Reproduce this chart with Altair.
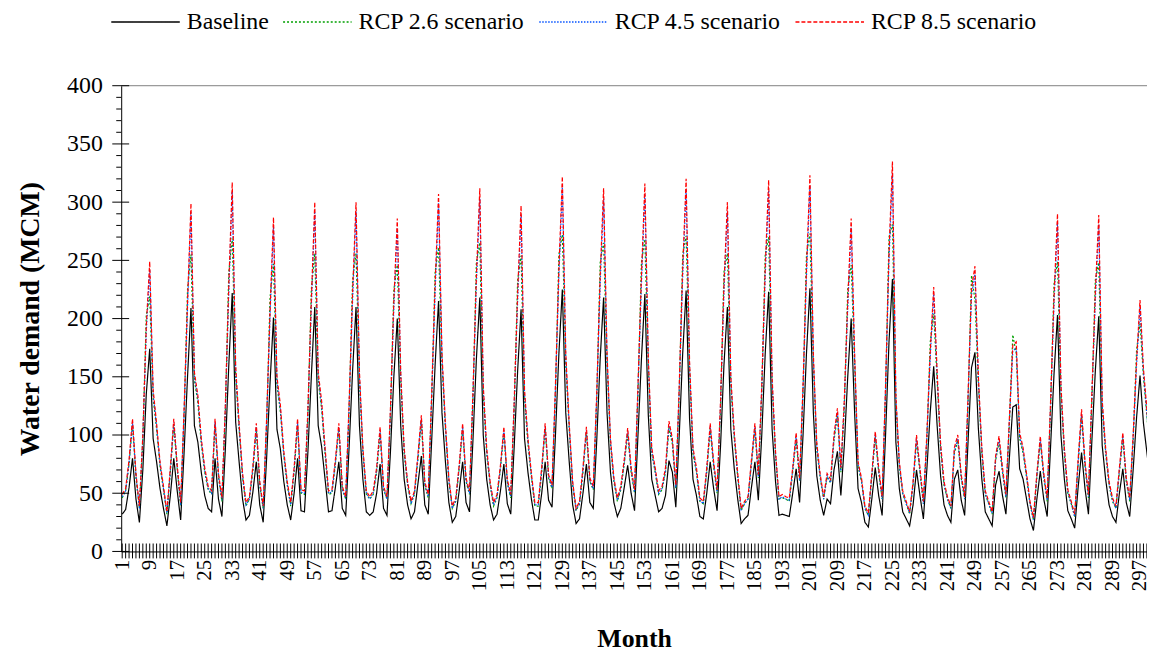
import altair as alt
import pandas as pd

# ---------------- data ----------------
series_names = ["Baseline", "RCP 2.6 scenario", "RCP 4.5 scenario", "RCP 8.5 scenario"]
series_colors = ["#000000", "#00a000", "#0050ff", "#ff0000"]
series_dashes = [[1, 0], [2, 2], [1.5, 1.5], [4, 2]]

months = list(range(1, 301))
x_label_months = list(range(1, 300, 8))
y_major_ticks = [0, 50, 100, 150, 200, 250, 300, 350, 400]
y_minor_ticks = [10, 20, 30, 40, 60, 70, 80, 90, 110, 120, 130, 140, 160, 170, 180, 190,
                 210, 220, 230, 240, 260, 270, 280, 290, 310, 320, 330, 340, 360, 370, 380, 390]

baseline = [
    32, 36, 55, 80, 45, 25, 70, 135, 174, 97, 77, 54,
    37, 22, 48, 80, 52, 27, 85, 150, 209, 108, 94, 68,
    48, 37, 34, 80, 45, 30, 88, 160, 222, 111, 77, 45,
    27, 31, 51, 77, 40, 25, 80, 145, 201, 105, 88, 60,
    40, 27, 50, 80, 35, 34, 85, 150, 210, 108, 90, 62,
    34, 35, 55, 77, 37, 31, 90, 155, 210, 108, 62, 34,
    31, 34, 50, 75, 37, 31, 85, 150, 200, 108, 62, 40,
    28, 34, 58, 82, 40, 32, 95, 160, 215, 119, 77, 42,
    25, 30, 52, 77, 42, 34, 95, 165, 218, 100, 62, 40,
    27, 32, 52, 75, 41, 32, 90, 155, 208, 97, 68, 45,
    27, 27, 50, 77, 44, 38, 100, 170, 225, 119, 77, 40,
    24, 28, 50, 75, 42, 37, 95, 165, 218, 119, 68, 42,
    30, 37, 55, 74, 50, 35, 100, 165, 221, 117, 62, 48,
    34, 37, 48, 78, 68, 38, 100, 170, 224, 114, 62, 48,
    30, 28, 50, 77, 54, 35, 90, 160, 210, 105, 71, 45,
    24, 28, 31, 55, 77, 44, 100, 170, 223, 105, 60, 31,
    32, 31, 30, 50, 71, 42, 100, 170, 226, 119, 65, 44,
    31, 45, 41, 70, 86, 48, 91, 150, 200, 119, 54, 42,
    25, 21, 45, 72, 48, 31, 100, 180, 234, 94, 54, 34,
    28, 22, 40, 70, 48, 28, 70, 120, 159, 108, 65, 40,
    31, 25, 62, 70, 44, 31, 95, 158, 171, 105, 62, 34,
    28, 22, 57, 69, 48, 32, 80, 124, 126, 71, 62, 45,
    28, 18, 45, 69, 45, 30, 91, 153, 203, 100, 62, 35,
    28, 20, 55, 85, 54, 32, 95, 155, 202, 91, 62, 40,
    30, 25, 50, 71, 42, 30, 70, 115, 151, 110, 85, 60,
]

rcp26 = [
    46, 52, 75, 109, 64, 37, 95, 203, 219, 132, 105, 73,
    53, 32, 68, 109, 71, 39, 116, 225, 255, 147, 128, 92,
    68, 53, 49, 109, 64, 43, 120, 240, 269, 151, 105, 64,
    39, 45, 69, 105, 57, 37, 109, 218, 247, 143, 120, 82,
    57, 39, 68, 109, 50, 49, 116, 225, 256, 147, 122, 84,
    49, 50, 75, 105, 53, 45, 122, 233, 256, 147, 84, 49,
    45, 49, 68, 102, 53, 45, 116, 225, 246, 147, 84, 57,
    41, 49, 79, 112, 57, 46, 129, 240, 261, 162, 105, 60,
    37, 43, 71, 105, 60, 49, 129, 248, 265, 136, 84, 57,
    39, 46, 71, 102, 59, 46, 122, 233, 254, 132, 92, 64,
    39, 39, 68, 105, 63, 54, 136, 255, 272, 162, 105, 57,
    35, 41, 68, 102, 60, 53, 129, 248, 265, 162, 92, 60,
    43, 53, 75, 101, 68, 50, 136, 248, 268, 159, 84, 68,
    49, 53, 68, 106, 92, 54, 136, 255, 271, 155, 84, 68,
    43, 41, 68, 105, 73, 50, 122, 240, 256, 143, 97, 64,
    35, 41, 45, 75, 105, 63, 136, 255, 270, 143, 82, 45,
    46, 45, 43, 68, 97, 60, 136, 255, 273, 162, 88, 63,
    45, 64, 59, 95, 117, 68, 124, 225, 246, 162, 73, 60,
    37, 31, 64, 98, 68, 45, 136, 270, 281, 128, 73, 49,
    41, 32, 57, 95, 68, 41, 95, 180, 204, 147, 88, 57,
    45, 37, 84, 95, 63, 45, 129, 237, 216, 143, 84, 49,
    41, 32, 78, 94, 68, 46, 109, 186, 170, 97, 84, 64,
    41, 27, 64, 94, 64, 43, 124, 230, 249, 136, 84, 50,
    41, 30, 75, 116, 73, 46, 129, 233, 248, 124, 84, 57,
    43, 37, 68, 97, 60, 43, 95, 173, 196, 150, 116, 82,
]

rcp45 = [
    47, 52, 76, 111, 65, 37, 97, 188, 242, 135, 107, 75,
    54, 33, 69, 111, 72, 40, 118, 209, 291, 150, 131, 95,
    69, 54, 50, 111, 65, 44, 122, 222, 309, 154, 107, 65,
    40, 45, 71, 107, 58, 37, 111, 202, 279, 146, 122, 83,
    58, 40, 70, 111, 51, 50, 118, 209, 292, 150, 125, 86,
    50, 51, 76, 107, 54, 45, 125, 215, 292, 150, 86, 50,
    45, 50, 70, 104, 54, 45, 118, 209, 278, 150, 86, 58,
    41, 50, 81, 114, 58, 47, 132, 222, 299, 165, 107, 61,
    37, 44, 72, 107, 61, 50, 132, 229, 303, 139, 86, 58,
    40, 47, 72, 104, 59, 47, 125, 215, 289, 135, 95, 65,
    40, 40, 70, 107, 64, 55, 139, 236, 313, 165, 107, 58,
    36, 41, 70, 104, 61, 54, 132, 229, 303, 165, 95, 61,
    44, 54, 76, 103, 70, 51, 139, 229, 307, 163, 86, 69,
    50, 54, 69, 108, 95, 55, 139, 236, 311, 158, 86, 69,
    44, 41, 70, 107, 75, 51, 125, 222, 292, 146, 99, 65,
    36, 41, 45, 76, 107, 64, 139, 236, 310, 146, 83, 45,
    47, 45, 44, 70, 99, 61, 139, 236, 314, 165, 90, 64,
    45, 65, 59, 97, 120, 69, 126, 209, 278, 165, 75, 61,
    37, 31, 65, 100, 69, 45, 139, 250, 325, 131, 75, 50,
    41, 33, 58, 97, 69, 41, 97, 167, 221, 150, 90, 58,
    45, 37, 86, 97, 64, 45, 132, 220, 238, 146, 86, 50,
    41, 33, 79, 96, 69, 47, 111, 172, 175, 99, 86, 65,
    41, 27, 65, 96, 65, 44, 126, 213, 282, 139, 86, 51,
    41, 30, 76, 118, 75, 47, 132, 215, 281, 126, 86, 58,
    44, 37, 70, 99, 61, 44, 97, 160, 210, 153, 118, 83,
]

rcp85 = [
    49, 54, 79, 114, 67, 39, 100, 193, 249, 139, 110, 77,
    56, 34, 72, 114, 74, 42, 122, 215, 299, 154, 134, 97,
    72, 56, 52, 114, 67, 46, 126, 229, 317, 159, 110, 67,
    42, 47, 73, 110, 60, 39, 114, 207, 287, 150, 126, 86,
    60, 42, 72, 114, 53, 52, 122, 215, 300, 154, 129, 89,
    52, 53, 79, 110, 56, 47, 129, 222, 300, 154, 89, 52,
    47, 52, 72, 107, 56, 47, 122, 215, 286, 154, 89, 60,
    43, 52, 83, 117, 60, 49, 136, 229, 307, 170, 110, 63,
    39, 46, 74, 110, 63, 52, 136, 236, 312, 143, 89, 60,
    42, 49, 74, 107, 62, 49, 129, 222, 297, 139, 97, 67,
    42, 42, 72, 110, 66, 57, 143, 243, 322, 170, 110, 60,
    37, 43, 72, 107, 63, 56, 136, 236, 312, 170, 97, 63,
    46, 56, 79, 106, 72, 53, 143, 236, 316, 167, 89, 72,
    52, 56, 72, 112, 97, 57, 143, 243, 320, 163, 89, 72,
    46, 43, 72, 110, 77, 53, 129, 229, 300, 150, 102, 67,
    37, 43, 47, 79, 110, 66, 143, 243, 319, 150, 86, 47,
    49, 47, 46, 72, 102, 63, 143, 243, 323, 170, 93, 66,
    47, 67, 62, 100, 123, 72, 130, 215, 286, 170, 77, 63,
    39, 33, 67, 103, 72, 47, 143, 257, 335, 134, 77, 52,
    43, 34, 60, 100, 72, 43, 100, 172, 227, 154, 93, 60,
    47, 39, 89, 100, 66, 47, 136, 226, 245, 150, 89, 52,
    43, 34, 82, 99, 72, 49, 114, 177, 180, 102, 89, 67,
    43, 29, 67, 99, 67, 46, 130, 219, 290, 143, 89, 53,
    43, 32, 79, 122, 77, 49, 136, 222, 289, 130, 89, 60,
    46, 39, 72, 102, 63, 46, 100, 164, 216, 157, 122, 86,
]

# ---------------- tables ----------------
frames = []
for name, vals in zip(series_names, [baseline, rcp26, rcp45, rcp85]):
    frames.append(pd.DataFrame({"month": months, "value": vals, "series": name}))
df = pd.concat(frames, ignore_index=True)

W, H = 1033, 469
SERIF = "Liberation Serif"

x_axis = alt.Axis(values=x_label_months, labelAngle=-90, ticks=False, labelPadding=8,
                  labelFont=SERIF, labelFontSize=21, labelColor="black", labelOverlap=False,
                  labelFlush=False, domainColor="black", domainWidth=1, grid=False,
                  title="Month", titleFont=SERIF, titleFontSize=26, titleFontWeight="bold",
                  titleColor="black", titlePadding=35)
y_axis = alt.Axis(values=y_major_ticks, ticks=False, labelPadding=19,
                  labelFont=SERIF, labelFontSize=24, labelColor="black",
                  domainColor="black", domainWidth=1, grid=False,
                  title="Water demand (MCM)", titleFont=SERIF, titleFontSize=28,
                  titleFontWeight="bold", titleColor="black", titlePadding=22)

x_enc = alt.X("month:Q", scale=alt.Scale(domain=[0.711, 299.03], nice=False, zero=False), axis=x_axis)
y_enc = alt.Y("value:Q", scale=alt.Scale(domain=[0, 400], nice=False, zero=True), axis=y_axis)

legend = alt.Legend(orient="none", legendX=-11, legendY=-100, direction="horizontal", title=None,
                    symbolType="stroke", symbolSize=4761, symbolStrokeWidth=1.5,
                    labelFont=SERIF, labelFontSize=24, labelColor="black", labelOffset=6,
                    columnPadding=11, padding=0, labelLimit=400)
color_enc = alt.Color("series:N", scale=alt.Scale(domain=series_names, range=series_colors), legend=legend)
dash_enc = alt.StrokeDash("series:N", scale=alt.Scale(domain=series_names, range=series_dashes), legend=legend)

top_line = alt.Chart(pd.DataFrame({"value": [y_major_ticks[-1]]})).mark_rule(
    color="#808080", strokeWidth=1).encode(y=y_enc)

line_layers = [
    alt.Chart(df).transform_filter(alt.datum.series == name).mark_line(strokeWidth=1.2, clip=True).encode(
        x=x_enc, y=y_enc, color=color_enc, strokeDash=dash_enc)
    for name in series_names
]

x_ticks = alt.Chart(pd.DataFrame({"month": months})).mark_rule(color="black", strokeWidth=1).encode(
    x=x_enc, y=alt.value(H - 8), y2=alt.value(H + 7))
y_major = alt.Chart(pd.DataFrame({"value": y_major_ticks})).mark_rule(color="black", strokeWidth=1).encode(
    y=y_enc, x=alt.value(-9), x2=alt.value(8))
y_minor = alt.Chart(pd.DataFrame({"value": y_minor_ticks})).mark_rule(color="black", strokeWidth=1).encode(
    y=y_enc, x=alt.value(-5), x2=alt.value(0))

chart = alt.layer(top_line, *line_layers, x_ticks, y_major, y_minor).properties(
    width=W, height=H,
    padding={"left": 114, "top": 76, "right": 0, "bottom": 99},
    autosize=alt.AutoSizeParams(type="none"),
    background="white",
).configure_view(stroke=None)

chart.save("out.html", embed_options={"renderer": "svg", "actions": False})
